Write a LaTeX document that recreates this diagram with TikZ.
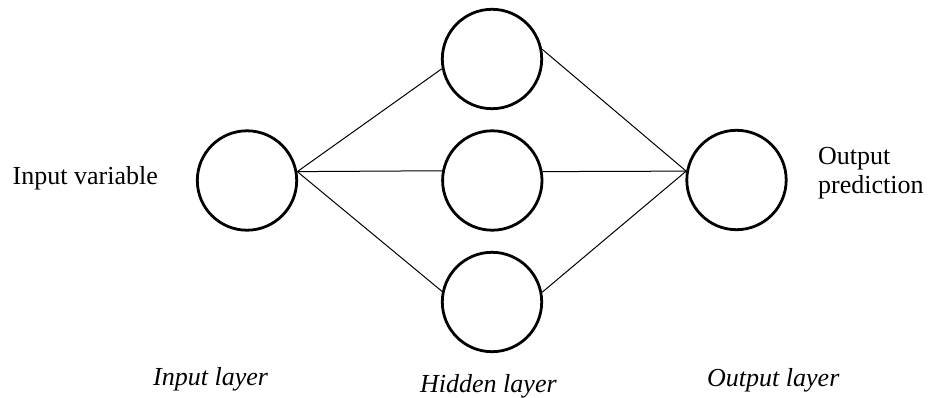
\documentclass[tikz,border=0pt]{standalone}
\usepackage{fontspec}
\setmainfont{Liberation Serif}
\begin{document}
\begin{tikzpicture}[x=1pt,y=-1pt,
  neuron/.style={circle,draw,line width=2.8pt,minimum size=99.4pt,inner sep=0pt},
  link/.style={line width=1pt},
  lbl/.style={inner sep=0pt,anchor=base west,font=\fontsize{26}{29}\selectfont},
  layerlbl/.style={lbl,font=\fontsize{26}{29}\selectfont\itshape}]
  \useasboundingbox[fill=white] (0,0) rectangle (929,398);

  % neurons
  \node[neuron] (in)   at (247,180.5) {};
  \node[neuron] (hTop) at (492,59) {};
  \node[neuron] (hMid) at (492.3,180.5) {};
  \node[neuron] (hBot) at (492,302) {};
  \node[neuron] (out)  at (736.5,180) {};

  % connections
  \draw[link] (in.10.5) -- (hTop.191);
  \draw[link] (in.10.5) -- (hMid.169.5);
  \draw[link] (in.10.5) -- (hBot.168);
  \draw[link] (hTop.11) -- (out.170);
  \draw[link] (hMid.10.5) -- (out.170);
  \draw[link] (hBot.11) -- (out.170);

  % labels
  \node[lbl] (inVar)  at (12.5,185) {Input variable};
  \node[lbl] (outVa)  at (818,164.3) {Output};
  \node[lbl] (outVb)  at (818,193.5) {prediction};
  \node[layerlbl] (lIn)  at (153,385) {Input layer};
  \node[layerlbl] (lHid) at (420,392) {Hidden layer};
  \node[layerlbl] (lOut) at (707,386.7) {Output layer};
\end{tikzpicture}
\end{document}
